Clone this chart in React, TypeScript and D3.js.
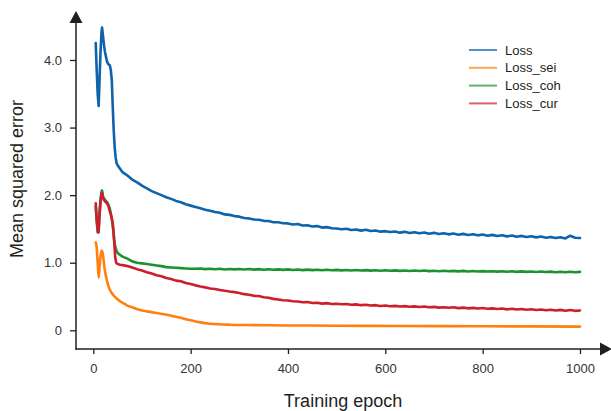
import React, { useEffect, useRef } from 'react';
import * as d3 from 'd3';

// epochs shared by the tail of the three noisy curves
const tailEpochs = [
  60, 70, 80, 90, 100,
  110, 120, 130, 140, 150, 160, 170, 180, 190, 200,
  210, 220, 230, 240, 250, 260, 270, 280, 290, 300,
  310, 320, 330, 340, 350, 360, 370, 380, 390, 400,
  410, 420, 430, 440, 450, 460, 470, 480, 490, 500,
  510, 520, 530, 540, 550, 560, 570, 580, 590, 600,
  610, 620, 630, 640, 650, 660, 670, 680, 690, 700,
  710, 720, 730, 740, 750, 760, 770, 780, 790, 800,
  810, 820, 830, 840, 850, 860, 870, 880, 890, 900,
  910, 920, 930, 940, 950, 960, 970, 980, 990, 1000,
];

// Loss
const lossEarly: [number, number][] = [
  [5, 4.25], [7, 3.85], [9, 3.5], [11, 3.32], [13, 3.75], [15, 4.15], [17, 4.42], [18, 4.48],
  [20, 4.35], [22, 4.22], [24, 4.12], [26, 4.05], [28, 3.98], [30, 3.95], [32, 3.93], [34, 3.92],
  [36, 3.85], [38, 3.7], [40, 3.3], [42, 2.95], [44, 2.7], [46, 2.55], [48, 2.47], [51, 2.43], [55, 2.39],
];
const lossTail = [
  2.34, 2.29, 2.23, 2.19, 2.14,
  2.1, 2.06, 2.03, 2.0, 1.97, 1.945, 1.915, 1.895, 1.865, 1.845,
  1.825, 1.805, 1.785, 1.77, 1.75, 1.74, 1.715, 1.708, 1.69, 1.682,
  1.662, 1.656, 1.64, 1.637, 1.62, 1.617, 1.6, 1.598, 1.585, 1.582,
  1.565, 1.572, 1.55, 1.553, 1.535, 1.542, 1.52, 1.527, 1.51, 1.507,
  1.495, 1.502, 1.485, 1.492, 1.475, 1.487, 1.47, 1.477, 1.46, 1.467,
  1.455, 1.462, 1.445, 1.457, 1.44, 1.452, 1.435, 1.447, 1.43, 1.442,
  1.425, 1.437, 1.42, 1.432, 1.415, 1.427, 1.41, 1.422, 1.405, 1.417,
  1.4, 1.412, 1.395, 1.407, 1.39, 1.402, 1.385, 1.397, 1.38, 1.392,
  1.375, 1.387, 1.37, 1.382, 1.365, 1.377, 1.36, 1.4, 1.37, 1.365,
];

// Loss_sei (smooth)
const seiPoints: [number, number][] = [
  [5, 1.3], [7, 1.22], [9, 1.0], [11, 0.78], [13, 0.95], [15, 1.1], [17, 1.18], [19, 1.15],
  [21, 1.05], [23, 0.92], [26, 0.8], [30, 0.68], [34, 0.6], [40, 0.53], [48, 0.47], [55, 0.43],
  [62, 0.4], [69, 0.37], [80, 0.34], [96, 0.3], [110, 0.28], [130, 0.255], [151, 0.23],
  [170, 0.2], [190, 0.165], [205, 0.14], [220, 0.117], [240, 0.098], [257, 0.089], [280, 0.083],
  [315, 0.078], [400, 0.072], [500, 0.068], [630, 0.064], [800, 0.06], [1000, 0.055],
];

// Loss_coh
const cohEarly: [number, number][] = [
  [5, 1.83], [7, 1.62], [9, 1.45], [11, 1.5], [13, 1.78], [15, 1.95], [17, 2.05], [18, 2.07],
  [20, 1.98], [22, 1.95], [25, 1.92], [28, 1.9], [31, 1.86], [34, 1.8], [37, 1.68], [39, 1.6],
  [41, 1.48], [43, 1.34], [45, 1.24], [48, 1.17], [52, 1.13], [56, 1.11],
];
const cohTail = [
  1.09, 1.06, 1.02, 1.0, 0.99,
  0.98, 0.97, 0.96, 0.95, 0.935, 0.93, 0.925, 0.92, 0.915, 0.91,
  0.91, 0.914, 0.905, 0.912, 0.903, 0.91, 0.9, 0.908, 0.902, 0.907,
  0.9, 0.906, 0.898, 0.905, 0.896, 0.903, 0.897, 0.902, 0.894, 0.901,
  0.893, 0.899, 0.891, 0.898, 0.89, 0.896, 0.889, 0.895, 0.888, 0.894,
  0.887, 0.893, 0.886, 0.892, 0.884, 0.891, 0.883, 0.889, 0.882, 0.888,
  0.881, 0.887, 0.88, 0.886, 0.878, 0.885, 0.877, 0.884, 0.876, 0.882,
  0.875, 0.881, 0.874, 0.88, 0.872, 0.879, 0.871, 0.878, 0.87, 0.876,
  0.869, 0.875, 0.868, 0.874, 0.866, 0.873, 0.865, 0.872, 0.864, 0.87,
  0.863, 0.869, 0.862, 0.868, 0.86, 0.867, 0.859, 0.866, 0.858, 0.864,
];

// Loss_cur
const curEarly: [number, number][] = [
  [5, 1.88], [7, 1.65], [9, 1.48], [11, 1.45], [13, 1.72], [15, 1.9], [17, 2.02], [18, 2.03],
  [20, 1.96], [22, 1.93], [25, 1.9], [28, 1.88], [31, 1.84], [34, 1.76], [36, 1.72], [38, 1.66],
  [40, 1.58], [41, 1.51], [43, 1.3], [45, 1.08], [47, 1.0], [50, 0.98], [55, 0.97],
];
const curTail = [
  0.965, 0.95, 0.93, 0.905, 0.885,
  0.86, 0.84, 0.815, 0.8, 0.775, 0.76, 0.735, 0.725, 0.7, 0.685,
  0.665, 0.648, 0.635, 0.618, 0.61, 0.597, 0.585, 0.573, 0.565, 0.553,
  0.535, 0.527, 0.51, 0.507, 0.49, 0.482, 0.465, 0.457, 0.445, 0.442,
  0.43, 0.427, 0.415, 0.418, 0.405, 0.408, 0.395, 0.402, 0.39, 0.394,
  0.385, 0.39, 0.378, 0.384, 0.372, 0.378, 0.366, 0.372, 0.36, 0.366,
  0.356, 0.362, 0.352, 0.358, 0.348, 0.354, 0.344, 0.352, 0.34, 0.347,
  0.336, 0.342, 0.333, 0.34, 0.328, 0.336, 0.325, 0.332, 0.322, 0.329,
  0.318, 0.325, 0.315, 0.322, 0.31, 0.318, 0.307, 0.315, 0.304, 0.312,
  0.3, 0.308, 0.297, 0.305, 0.294, 0.302, 0.29, 0.3, 0.288, 0.294,
];

const seriesNames = ['Loss', 'Loss_sei', 'Loss_coh', 'Loss_cur'];
const seriesColors = ['#0e63ab', '#ff800e', '#1d9231', '#cb1f2b'];
const xTicks = [0, 200, 400, 600, 800, 1000];
const yTicks = [0, 1, 2, 3, 4];

const withTail = (early: [number, number][], tail: number[]): [number, number][] =>
  early.concat(tail.map((v, i) => [tailEpochs[i], v] as [number, number]));

const FONT = '"Liberation Sans", Arial, sans-serif';

const App = () => {
  const svgRef = useRef<SVGSVGElement>(null);

  useEffect(() => {
    const svg = d3.select(svgRef.current);
    svg.selectAll('*').remove();

    const axisColor = '#231f20';
    const x0 = 76; // y axis position
    const yAxisPos = 349; // x axis position

    const x = d3.scaleLinear().domain([0, 1000]).range([93.3, 580]);
    const y = d3.scaleLinear().domain([0, 4]).range([330.3, 60]);

    const data = [
      withTail(lossEarly, lossTail),
      seiPoints,
      withTail(cohEarly, cohTail),
      withTail(curEarly, curTail),
    ];

    const line = d3
      .line<[number, number]>()
      .x(d => x(d[0]))
      .y(d => y(d[1]));
    const smoothLine = d3
      .line<[number, number]>()
      .x(d => x(d[0]))
      .y(d => y(d[1]))
      .curve(d3.curveMonotoneX);

    // draw order: Loss, sei, coh, cur (red on top)
    data.forEach((pts, i) => {
      svg
        .append('path')
        .attr('d', i === 1 ? smoothLine(pts) : line(pts))
        .attr('fill', 'none')
        .attr('stroke', seriesColors[i])
        .attr('stroke-width', 2.6)
        .attr('stroke-linejoin', 'round')
        .attr('stroke-linecap', 'round');
    });

    // axes
    const yAxis = svg
      .append('g')
      .attr('transform', `translate(${x0},0)`)
      .call(
        d3
          .axisLeft(y)
          .tickValues(yTicks)
          .tickSize(6)
          .tickPadding(8)
          .tickFormat(d => ((d as number) === 0 ? '0' : (d as number).toFixed(1)))
      );
    const xAxis = svg
      .append('g')
      .attr('transform', `translate(0,${yAxisPos})`)
      .call(
        d3
          .axisBottom(x)
          .tickValues(xTicks)
          .tickSize(5)
          .tickPadding(10)
          .tickFormat(d => String(d))
      );
    [yAxis, xAxis].forEach(g => {
      g.select('.domain').remove();
      g.selectAll('line').attr('stroke', axisColor).attr('stroke-width', 1.3);
      g.selectAll('text')
        .attr('fill', '#333')
        .style('font-family', FONT)
        .style('font-size', '13px');
    });

    svg
      .append('line')
      .attr('x1', x0)
      .attr('x2', x0)
      .attr('y1', 22)
      .attr('y2', yAxisPos + 0.7)
      .attr('stroke', axisColor)
      .attr('stroke-width', 1.5);
    svg
      .append('line')
      .attr('x1', x0 - 0.7)
      .attr('x2', 601)
      .attr('y1', yAxisPos)
      .attr('y2', yAxisPos)
      .attr('stroke', axisColor)
      .attr('stroke-width', 1.5);
    svg
      .append('path')
      .attr('d', `M${x0},11 L${x0 + 6.5},23 L${x0 - 6.5},23 Z`)
      .attr('fill', axisColor);
    svg
      .append('path')
      .attr('d', `M612,${yAxisPos} L600,${yAxisPos - 6.5} L600,${yAxisPos + 6.5} Z`)
      .attr('fill', axisColor);

    // axis titles
    svg
      .append('text')
      .attr('x', 343)
      .attr('y', 407)
      .attr('text-anchor', 'middle')
      .attr('fill', '#231f20')
      .style('font-family', FONT)
      .style('font-size', '18px')
      .text('Training epoch');
    svg
      .append('text')
      .attr('transform', 'translate(23,179) rotate(-90)')
      .attr('text-anchor', 'middle')
      .attr('fill', '#231f20')
      .style('font-family', FONT)
      .style('font-size', '18px')
      .text('Mean squared error');

    // legend
    const legend = svg.append('g').attr('transform', 'translate(469,50)');
    seriesNames.forEach((name, i) => {
      const row = legend.append('g').attr('transform', `translate(0,${i * 17.8})`);
      row
        .append('line')
        .attr('x1', 0)
        .attr('x2', 28)
        .attr('stroke', seriesColors[i])
        .attr('stroke-opacity', 0.7)
        .attr('stroke-width', 2);
      row
        .append('text')
        .attr('x', 36)
        .attr('y', 0)
        .attr('dy', '0.35em')
        .attr('fill', '#231f20')
        .style('font-family', FONT)
        .style('font-size', '13px')
        .text(name);
    });
  }, []);

  return (
    <svg
      ref={svgRef}
      width={611}
      height={411}
      style={{ position: 'absolute', left: 0, top: 0, background: '#fff' }}
    />
  );
};

export default App;
